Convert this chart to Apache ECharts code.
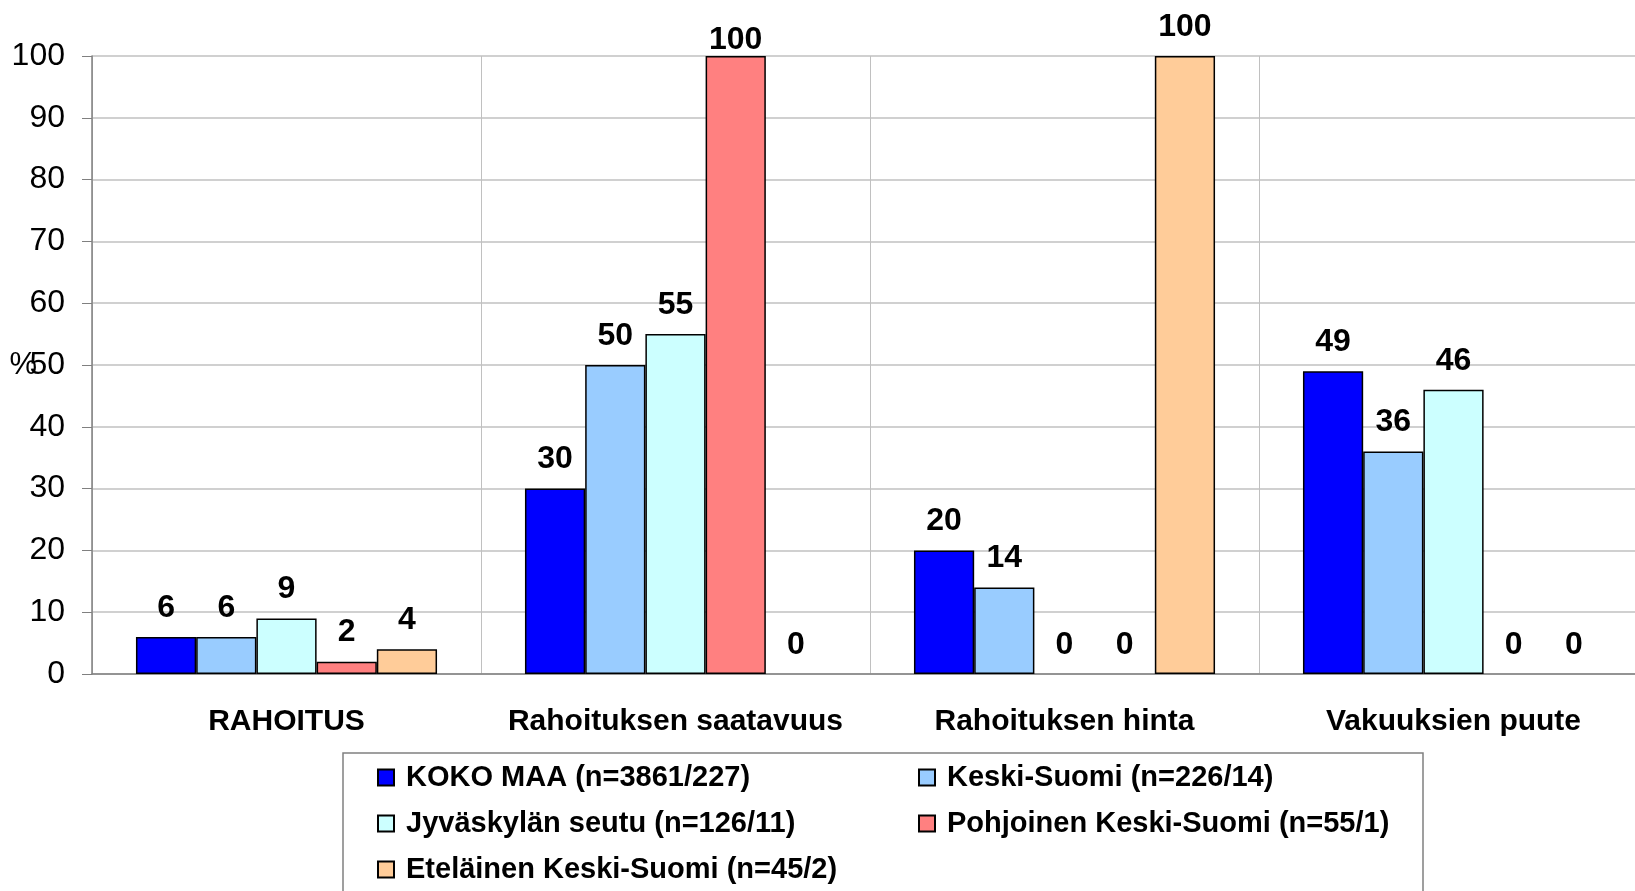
<!DOCTYPE html>
<html>
<head>
<meta charset="utf-8">
<script src="https://cdn.jsdelivr.net/npm/echarts@6/dist/echarts.min.js"></script>
<style>
  html, body { margin: 0; padding: 0; background: #fff; }
  #container { width: 1635px; height: 891px; }
</style>
</head>
<body>
<div id="container"></div>
<script>
var dom = document.getElementById("container");
var myChart = echarts.init(dom);

// data
var categories = ['RAHOITUS', 'Rahoituksen saatavuus', 'Rahoituksen hinta', 'Vakuuksien puute'];
var seriesNames = [
  'KOKO MAA (n=3861/227)',
  'Keski-Suomi (n=226/14)',
  'Jyväskylän seutu (n=126/11)',
  'Pohjoinen Keski-Suomi (n=55/1)',
  'Eteläinen Keski-Suomi (n=45/2)'
];
var kokoMaa = [6, 30, 20, 49];
var keskiSuomi = [6, 50, 14, 36];
var jyvaskylanSeutu = [9, 55, 0, 46];
var pohjoinenKS = [2, 100, 0, 0];
var etelainenKS = [4, 0, 100, 0];
var yTicks = [0, 10, 20, 30, 40, 50, 60, 70, 80, 90, 100];

var colors = ['#0000ff', '#99ccff', '#ccffff', '#ff8080', '#ffcc99'];
var allValues = [kokoMaa, keskiSuomi, jyvaskylanSeutu, pohjoinenKS, etelainenKS];
var font = 'Liberation Sans, Arial, sans-serif';

var series = allValues.map(function (vals, si) {
  return {
    type: 'bar',
    name: seriesNames[si],
    barGap: 0,
    barCategoryGap: '22.6%',
    itemStyle: { color: colors[si], borderColor: '#000', borderWidth: 1.5 },
    label: {
      show: true,
      position: 'top',
      distance: 13,
      fontFamily: font,
      fontWeight: 'bold',
      fontSize: 32,
      color: '#000'
    },
    data: vals.map(function (v, ci) {
      var item = { value: v };
      // zero bars have no visible outline in the original
      if (v === 0) item.itemStyle = { borderWidth: 0 };
      // the Excel label of the first 100 bar sits down against the bar top
      if (si === 3 && ci === 1) item.label = { distance: 0 };
      return item;
    })
  };
});

// one legend per item so the two columns line up like the original
var legendPos = [[377, 763], [918, 763], [377, 809], [918, 809], [377, 855]];
var legends = seriesNames.map(function (n, i) {
  return {
    data: [n],
    left: legendPos[i][0],
    top: legendPos[i][1],
    padding: 0,
    icon: 'rect',
    itemWidth: 16,
    itemHeight: 16,
    selectedMode: false,
    textStyle: {
      fontFamily: font,
      fontWeight: 'bold',
      fontSize: 29,
      lineHeight: 28,
      color: '#000',
      padding: [0, 0, 0, 7]
    }
  };
});

option = {
  animation: false,
  color: colors,
  grid: {
    left: 92,
    top: 56,
    bottom: 217,
    right: -13,
    outerBoundsMode: 'none'
  },
  legend: legends,
  graphic: [{
    type: 'rect',
    shape: { x: 343, y: 753, width: 1080, height: 200 },
    style: { fill: 'none', stroke: '#808080', lineWidth: 1.5 },
    z: -1
  }],
  xAxis: {
    type: 'category',
    data: categories,
    axisLine: { lineStyle: { color: '#808080', width: 1.5 } },
    axisTick: { interval: 0, length: 12, lineStyle: { color: '#808080' } },
    splitLine: { show: true, interval: 0, lineStyle: { color: '#c0c0c0', width: 1 } },
    axisLabel: {
      interval: 0,
      margin: 33,
      fontFamily: font,
      fontWeight: 'bold',
      fontSize: 30,
      color: '#000'
    }
  },
  yAxis: {
    type: 'value',
    min: yTicks[0],
    max: yTicks[yTicks.length - 1],
    interval: 10,
    name: '%',
    nameLocation: 'middle',
    nameGap: 55,
    nameRotate: 0,
    nameMoveOverlap: false,
    nameTextStyle: { fontFamily: font, fontSize: 31, color: '#000' },
    axisLine: { show: true, lineStyle: { color: '#808080', width: 1.5 } },
    axisTick: { show: true, length: 10, lineStyle: { color: '#808080' } },
    splitLine: { show: true, lineStyle: { color: '#c0c0c0', width: 1.5 } },
    axisLabel: {
      margin: 27,
      fontFamily: font,
      fontSize: 32,
      color: '#000'
    }
  },
  series: series
};

if (option && typeof option === "object") {
  myChart.setOption(option, true);
}
</script>
</body>
</html>
